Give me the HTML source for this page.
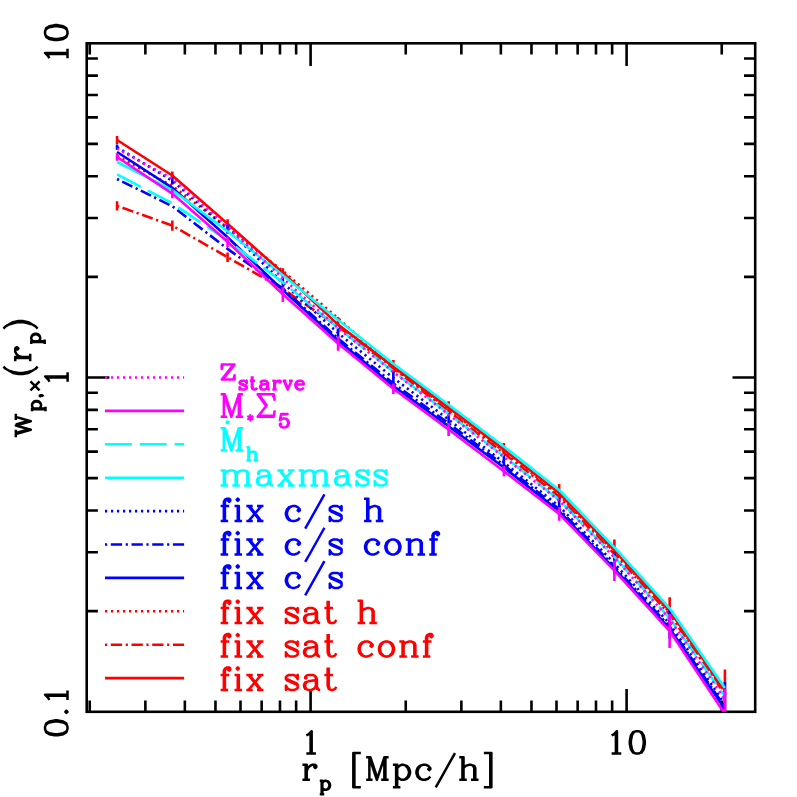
<!DOCTYPE html>
<html><head><meta charset="utf-8"><title>plot</title>
<style>html,body{margin:0;padding:0;background:#fff;font-family:"Liberation Sans",sans-serif}svg{display:block}</style></head><body>
<svg width="797" height="797" viewBox="0 0 797 797">
<rect width="797" height="797" fill="#fff"/>
<defs>
<path id="g0" d="M7 -19L6 -16L5 -11L5 -7L6 -2L7 1M11 -25L9 -23L5 -16L4 -11L4 -7L5 -2L6 0L9 5L11 7"/>
<path id="g1" d="M7 -19L8 -16L9 -11L9 -7L8 -2L7 1M3 -25L5 -23L9 -16L10 -11L10 -7L9 -2L8 0L5 5L3 7"/>
<path id="g2" d="M8 -21L8 -9M3 -18L13 -12M13 -18L3 -12"/>
<path id="g3" d="M5 0L4 -1L5 -2L6 -1L6 1L5 3L4 4"/>
<path id="g4" d="M5 -2L4 -1L5 0L6 -1Z"/>
<path id="g5" d="M20 -25L6 0L2 7"/>
<path id="g6" d="M7 -20L6 -19L5 -17L4 -12L4 -9L5 -4L6 -2L7 -1M13 -20L14 -19L15 -17L16 -12L16 -9L15 -4L14 -2L13 -1M4 -17L3 -12L3 -9L4 -4L6 -1L9 0L11 0L14 -1L16 -4L17 -9L17 -12L16 -17L14 -20L11 -21L9 -21L6 -20Z"/>
<path id="g7" d="M11 0L11 -21L8 -18L6 -17M10 -20L10 0M6 0L15 0"/>
<g id="g8"><path d="M5 -20L10 -20L15 -21L5 -21L3 -11L5 -13M5 -13L8 -14L11 -14L14 -13L16 -11L17 -8L17 -6L16 -3L14 -1L11 0L8 0L5 -1L4 -2L3 -4L3 -5L4 -6L5 -5L4 -4M5 -13L4 -12M13 -13L15 -11L16 -8L16 -6L15 -3L13 -1"/><path d="M5 -13h0" stroke-linecap="round"/></g>
<g id="g9"><path d="M19 -21L12 0L5 -21L5 0M19 -21L19 0M19 -21L23 -21M20 -21L20 0M12 -3L6 -21L2 -21M16 0L23 0M2 0L8 0"/><path d="M19 -21h0" stroke-linecap="round"/></g>
<path id="g10" d="M5 -25L5 7M11 -25L4 -25L4 7L11 7"/>
<path id="g11" d="M9 -25L9 7M3 -25L10 -25L10 7L3 7"/>
<g id="g12"><path d="M14 -12L14 -3M14 -12L15 -10L15 -3L16 -1M14 -12L13 -13L11 -14L7 -14L5 -13L4 -12L4 -11L5 -11L5 -12M14 -3L12 -1L10 0L7 0L4 -1L3 -3L3 -5L4 -7L7 -8L13 -9L14 -10M14 -3L15 -1L17 0L18 0M5 -7L4 -5L4 -3L5 -1"/><path d="M14 -12h0M14 -3h0" stroke-linecap="round"/></g>
<path id="g13" d="M7 -13L5 -11L4 -8L4 -6L5 -3L7 -1M16 -3L14 -1L11 0L9 0L6 -1L4 -3L3 -6L3 -8L4 -11L6 -13L9 -14L12 -14L14 -13L16 -11L16 -10L15 -9L14 -10L15 -11"/>
<g id="g14"><path d="M4 -8L16 -8L16 -10L14 -13L12 -14L9 -14L6 -13L4 -11L3 -8L3 -6L4 -3L6 -1L9 0L11 0L14 -1L16 -3M4 -8L5 -11L7 -13M4 -8L4 -6L5 -3L7 -1M15 -12L15 -8"/><path d="M4 -8h0" stroke-linecap="round"/></g>
<path id="g15" d="M5 0L5 -18L6 -20L8 -21L10 -21L11 -20L11 -19L10 -18L9 -19L10 -20M6 0L6 -18L7 -20M2 -14L10 -14M2 0L9 0"/>
<path id="g16" d="M5 -21L5 0M6 0L6 -21L2 -21M16 0L16 -11L15 -13M17 0L17 -11L16 -13L13 -14L11 -14L8 -13L6 -11M2 0L9 0M13 0L20 0"/>
<path id="g17" d="M5 -14L5 0M6 0L6 -14L2 -14M2 0L9 0M5 -21L4 -20L5 -19L6 -20Z"/>
<g id="g18"><path d="M5 -14L5 0M6 0L6 -14L2 -14M16 0L16 -11L15 -13M17 -11L17 0M17 -11L19 -13L22 -14L24 -14L27 -13L28 -11L28 0M17 -11L16 -13L13 -14L11 -14L8 -13L6 -11M27 0L27 -11L26 -13M2 0L9 0M13 0L20 0M24 0L31 0"/><path d="M17 -11h0" stroke-linecap="round"/></g>
<path id="g19" d="M5 -14L5 0M6 0L6 -14L2 -14M16 0L16 -11L15 -13M17 0L17 -11L16 -13L13 -14L11 -14L8 -13L6 -11M2 0L9 0M13 0L20 0"/>
<path id="g20" d="M7 -13L5 -11L4 -8L4 -6L5 -3L7 -1M13 -13L15 -11L16 -8L16 -6L15 -3L13 -1M9 -14L6 -13L4 -11L3 -8L3 -6L4 -3L6 -1L9 0L11 0L14 -1L16 -3L17 -6L17 -8L16 -11L14 -13L11 -14Z"/>
<path id="g21" d="M5 -14L5 7M6 7L6 -14L2 -14M2 7L9 7M6 -11L8 -13L10 -14L12 -14L15 -13L17 -11L18 -8L18 -6L17 -3L15 -1L12 0L10 0L8 -1L6 -3M14 -13L16 -11L17 -8L17 -6L16 -3L14 -1"/>
<path id="g22" d="M5 -14L5 0M6 0L6 -14L2 -14M2 0L9 0M6 -8L7 -11L9 -13L11 -14L14 -14L15 -13L15 -12L14 -11L13 -12L14 -13"/>
<g id="g23"><path d="M13 -12L14 -14L14 -10ZM13 -12L12 -13L10 -14L6 -14L4 -13L3 -12L3 -10L4 -9L13 -5L14 -4M4 -2L3 -4L3 0ZM4 -2L5 -1L7 0L11 0L13 -1L14 -2L14 -5L13 -6L4 -10L3 -11"/><path d="M13 -12h0M4 -2h0" stroke-linecap="round"/></g>
<path id="g24" d="M5 -21L5 -4L6 -1L8 0L10 0L12 -1L13 -3M6 -21L6 -4L7 -1M2 -14L10 -14"/>
<path id="g25" d="M3 -14L9 0L15 -14M4 -14L9 -2M1 -14L7 -14M11 -14L17 -14"/>
<path id="g26" d="M4 -14L8 0L12 -14L16 0L20 -14M5 -14L8 -3M13 -14L16 -3M1 -14L8 -14M17 -14L23 -14"/>
<path id="g27" d="M16 -14L4 0M4 -14L15 0M5 -14L16 0M2 -14L8 -14M12 -14L18 -14M2 0L8 0M12 0L18 0"/>
<path id="g28" d="M14 -14L3 0L15 0L15 -4L14 0M4 0L15 -14L3 -14L3 -10L4 -14"/>
<path id="g29" d="M18 -15L17 -21L2 -21L10 -10L2 0L17 0L18 -6M3 -21L11 -10M3 -1L16 -1M16 -20L17.5 -18"/>
<path id="g30" d="M1.2 -15.2L15.4 -1M15.4 -15.2L1.2 -1"/>
<path id="g31" d="M8 -20.7L8 -9.3M3.2 -17.8L12.8 -12.2M12.8 -17.8L3.2 -12.2"/>
<clipPath id="cp"><rect x="86.7" y="43.3" width="668.5" height="668.5"/></clipPath>
</defs>
<g fill="none" stroke="#000" stroke-width="2.6">
<rect x="86.7" y="43.3" width="668.5" height="668.5"/>
<path d="M89.73 711.8v-11.2M89.73 43.3v11.2M86.7 611.13h11.2M755.2 611.13h-11.2M145.37 711.8v-11.2M145.37 43.3v11.2M86.7 552.27h11.2M755.2 552.27h-11.2M184.85 711.8v-11.2M184.85 43.3v11.2M86.7 510.51h11.2M755.2 510.51h-11.2M215.47 711.8v-11.2M215.47 43.3v11.2M86.7 478.12h11.2M755.2 478.12h-11.2M240.5 711.8v-11.2M240.5 43.3v11.2M86.7 451.65h11.2M755.2 451.65h-11.2M261.65 711.8v-11.2M261.65 43.3v11.2M86.7 429.28h11.2M755.2 429.28h-11.2M279.98 711.8v-11.2M279.98 43.3v11.2M86.7 409.89h11.2M755.2 409.89h-11.2M296.14 711.8v-11.2M296.14 43.3v11.2M86.7 392.79h11.2M755.2 392.79h-11.2M310.6 711.8v-22.7M310.6 43.3v22.7M86.7 377.5h22.7M755.2 377.5h-22.7M405.73 711.8v-11.2M405.73 43.3v11.2M86.7 276.88h11.2M755.2 276.88h-11.2M461.37 711.8v-11.2M461.37 43.3v11.2M86.7 218.02h11.2M755.2 218.02h-11.2M500.85 711.8v-11.2M500.85 43.3v11.2M86.7 176.26h11.2M755.2 176.26h-11.2M531.47 711.8v-11.2M531.47 43.3v11.2M86.7 143.87h11.2M755.2 143.87h-11.2M556.5 711.8v-11.2M556.5 43.3v11.2M86.7 117.4h11.2M755.2 117.4h-11.2M577.65 711.8v-11.2M577.65 43.3v11.2M86.7 95.03h11.2M755.2 95.03h-11.2M595.98 711.8v-11.2M595.98 43.3v11.2M86.7 75.64h11.2M755.2 75.64h-11.2M612.14 711.8v-11.2M612.14 43.3v11.2M86.7 58.54h11.2M755.2 58.54h-11.2M626.6 711.8v-22.7M626.6 43.3v22.7M721.73 711.8v-11.2M721.73 43.3v11.2"/>
</g>
<g fill="none" stroke-width="2.6" stroke-linejoin="round" clip-path="url(#cp)">
<polyline points="117.05,140 172.31,175.5 227.57,223.8 282.83,272.8 338.09,324.6 393.35,366.6 448.61,407.6 503.87,449.6 559.13,493 614.39,550.3 669.65,610.8 724.91,690.5" stroke="#ff0000"/>
<path d="M117.05 136V144M172.31 171.5V179.5M227.57 219.3V228.3M282.83 268.3V277.3M338.09 317V332.2M393.35 360V373.2M448.61 401.3V413.9M503.87 443V456.2M559.13 484V502M614.39 539.5V561.1M669.65 597.3V624.3M724.91 669.6V711.4" stroke="#ff0000"/>
<polyline points="117.05,205.9 172.31,225.6 227.57,257.2 282.83,289 338.09,326.5 393.35,368.6 448.61,411.3 503.87,453.3 559.13,496.7 614.39,554 669.65,614.5 724.91,694.2" stroke="#ff0000" stroke-dasharray="2.2 3.6 11.3 3.6"/>
<path d="M117.05 201.25V210.55M172.31 220.4V230.8M227.57 252.5V261.9M282.83 286V292M338.09 324.5V328.5M393.35 366.6V370.6M448.61 409.3V413.3M503.87 451.3V455.3M559.13 494.7V498.7M614.39 552V556M669.65 612.5V616.5M724.91 692.2V696.2" stroke="#ff0000"/>
<polyline points="117.05,156 172.31,186 227.57,227.6 282.83,271 338.09,318.3 393.35,367.6 448.61,409.4 503.87,451.4 559.13,494.8 614.39,552.1 669.65,612.6 724.91,692.3" stroke="#ff0000" stroke-dasharray="2.2 3.8"/>
<polyline points="117.05,152 172.31,187.8 227.57,237.2 282.83,290.1 338.09,340.5 393.35,386 448.61,426.2 503.87,467.5 559.13,511.1 614.39,568.7 669.65,628.6 724.91,709" stroke="#0000ff"/>
<polyline points="117.05,179 172.31,206.2 227.57,248.9 282.83,288.5 338.09,338.5 393.35,383.4 448.61,423.3 503.87,465.1 559.13,509.1 614.39,566.6 669.65,626.6 724.91,707" stroke="#0000ff" stroke-dasharray="2.2 3.6 11.3 3.6"/>
<polyline points="117.05,147.2 172.31,180.8 227.57,229 282.83,282.8 338.09,333.1 393.35,377.9 448.61,419.6 503.87,462.5 559.13,506.1 614.39,563.4 669.65,623.8 724.91,704.1" stroke="#0000ff" stroke-dasharray="2.2 3.8"/>
<path d="M117.05 144.45V149.95M172.31 177V184.6M227.57 224.25V233.75M282.83 277.9V287.7M338.09 326.8V339.4M393.35 370.9V384.9M448.61 412.6V426.6M503.87 455V470M559.13 497.6V514.6M614.39 552.4V574.4M669.65 608.8V638.8M724.91 682.1V726.1" stroke="#0000ff"/>
<polyline points="117.05,162 172.31,190.1 227.57,231.3 282.83,275.3 338.09,320.1 393.35,363.8 448.61,404.8 503.87,446.5 559.13,490 614.39,547.3 669.65,608.3 724.91,688.1" stroke="#00ffff"/>
<polyline points="117.05,174.4 172.31,203.3 227.57,240.5 282.83,282.4 338.09,327.9 393.35,371.4 448.61,413.7 503.87,456.3 559.13,499.8 614.39,556.8 669.65,618.2 724.91,696.6" stroke="#00ffff" stroke-dasharray="26.8 8"/>
<polyline points="117.05,157 172.31,193.6 227.57,241.8 282.83,294.3 338.09,343.5 393.35,388.7 448.61,429.5 503.87,471.2 559.13,513.9 614.39,570.7 669.65,631 724.91,714" stroke="#ff00ff"/>
<path d="M117.05 153.3V160.7M172.31 189V198.2M227.57 236.6V247M282.83 286.7V301.9M338.09 336.3V350.7M393.35 383.4V394M448.61 423V436M503.87 466.1V476.3M559.13 507V520.8M614.39 560.4V581M669.65 614V648M724.91 688.6V739.4" stroke="#ff00ff"/>
<polyline points="117.05,148.6 172.31,178.8 227.57,226.8 282.83,278.3 338.09,328.1 393.35,372.1 448.61,414.5 503.87,457.1 559.13,500.6 614.39,557.6 669.65,619 724.91,699.4" stroke="#ff00ff" stroke-dasharray="2.2 3.8"/>
</g>
<g fill="none" stroke-width="2.6">
<path d="M105 377.5H184.1" stroke="#ff00ff" stroke-dasharray="2.2 3.8"/>
<path d="M105 410.9H184.1" stroke="#ff00ff"/>
<path d="M105 444.3H184.1" stroke="#00ffff" stroke-dasharray="26.8 8"/>
<path d="M105 477.7H184.1" stroke="#00ffff"/>
<path d="M105 511.1H184.1" stroke="#0000ff" stroke-dasharray="2.2 3.8"/>
<path d="M105 544.5H184.1" stroke="#0000ff" stroke-dasharray="2.2 3.6 11.3 3.6"/>
<path d="M105 577.9H184.1" stroke="#0000ff"/>
<path d="M105 611.3H184.1" stroke="#ff0000" stroke-dasharray="2.2 3.8"/>
<path d="M105 644.7H184.1" stroke="#ff0000" stroke-dasharray="2.2 3.6 11.3 3.6"/>
<path d="M105 678.1H184.1" stroke="#ff0000"/>
</g>
<g transform="translate(218.5 379.6)" fill="none" stroke="#ff00ff" stroke-linecap="butt" stroke-linejoin="round"><use href="#g28" transform="translate(0 0) scale(1.07)" stroke-width="2.34"/><use href="#g23" transform="translate(19.26 10) scale(0.64)" stroke-width="3.91"/><use href="#g24" transform="translate(30.14 10) scale(0.64)" stroke-width="3.91"/><use href="#g12" transform="translate(39.74 10) scale(0.64)" stroke-width="3.91"/><use href="#g22" transform="translate(52.54 10) scale(0.64)" stroke-width="3.91"/><use href="#g25" transform="translate(63.42 10) scale(0.64)" stroke-width="3.91"/><use href="#g14" transform="translate(74.94 10) scale(0.64)" stroke-width="3.91"/></g>
<g transform="translate(218.5 416.8)" fill="none" stroke="#ff00ff" stroke-linecap="butt" stroke-linejoin="round"><use href="#g9" transform="translate(0 0) scale(1.07)" stroke-width="2.34"/><use href="#g31" transform="translate(26.75 10.6) scale(0.64)" stroke-width="3.44"/><use href="#g29" transform="translate(36.99 0) scale(1.07)" stroke-width="2.34"/><use href="#g8" transform="translate(59.46 10.6) scale(0.64)" stroke-width="3.91"/></g>
<g transform="translate(218.5 450.6)" fill="none" stroke="#00ffff" stroke-linecap="butt" stroke-linejoin="round"><use href="#g9" transform="translate(0 0) scale(1.07)" stroke-width="2.34"/><use href="#g16" transform="translate(26.75 10) scale(0.64)" stroke-width="3.91"/></g>
<circle cx="227.55" cy="422.4" r="2.1" fill="#00ffff"/>
<g transform="translate(218.5 485.4)" fill="none" stroke="#00ffff" stroke-linecap="butt" stroke-linejoin="round"><use href="#g18" transform="translate(0 0) scale(1.07)" stroke-width="2.34"/><use href="#g12" transform="translate(35.31 0) scale(1.07)" stroke-width="2.34"/><use href="#g27" transform="translate(56.71 0) scale(1.07)" stroke-width="2.34"/><use href="#g18" transform="translate(78.11 0) scale(1.07)" stroke-width="2.34"/><use href="#g12" transform="translate(113.42 0) scale(1.07)" stroke-width="2.34"/><use href="#g23" transform="translate(134.82 0) scale(1.07)" stroke-width="2.34"/><use href="#g23" transform="translate(153.01 0) scale(1.07)" stroke-width="2.34"/></g>
<g transform="translate(218.5 521.1)" fill="none" stroke="#0000ff" stroke-linecap="butt" stroke-linejoin="round"><use href="#g15" transform="translate(0 0) scale(1.07)" stroke-width="2.34"/><use href="#g17" transform="translate(13.91 0) scale(1.07)" stroke-width="2.34"/><use href="#g27" transform="translate(25.68 0) scale(1.07)" stroke-width="2.34"/><use href="#g13" transform="translate(64.2 0) scale(1.07)" stroke-width="2.34"/><use href="#g5" transform="translate(84.53 0) scale(1.07)" stroke-width="2.34"/><use href="#g23" transform="translate(108.07 0) scale(1.07)" stroke-width="2.34"/><use href="#g16" transform="translate(143.38 0) scale(1.07)" stroke-width="2.34"/></g>
<g transform="translate(218.5 554.5)" fill="none" stroke="#0000ff" stroke-linecap="butt" stroke-linejoin="round"><use href="#g15" transform="translate(0 0) scale(1.07)" stroke-width="2.34"/><use href="#g17" transform="translate(13.91 0) scale(1.07)" stroke-width="2.34"/><use href="#g27" transform="translate(25.68 0) scale(1.07)" stroke-width="2.34"/><use href="#g13" transform="translate(64.2 0) scale(1.07)" stroke-width="2.34"/><use href="#g5" transform="translate(84.53 0) scale(1.07)" stroke-width="2.34"/><use href="#g23" transform="translate(108.07 0) scale(1.07)" stroke-width="2.34"/><use href="#g13" transform="translate(143.38 0) scale(1.07)" stroke-width="2.34"/><use href="#g20" transform="translate(163.71 0) scale(1.07)" stroke-width="2.34"/><use href="#g19" transform="translate(185.11 0) scale(1.07)" stroke-width="2.34"/><use href="#g15" transform="translate(208.65 0) scale(1.07)" stroke-width="2.34"/></g>
<g transform="translate(218.5 587.9)" fill="none" stroke="#0000ff" stroke-linecap="butt" stroke-linejoin="round"><use href="#g15" transform="translate(0 0) scale(1.07)" stroke-width="2.34"/><use href="#g17" transform="translate(13.91 0) scale(1.07)" stroke-width="2.34"/><use href="#g27" transform="translate(25.68 0) scale(1.07)" stroke-width="2.34"/><use href="#g13" transform="translate(64.2 0) scale(1.07)" stroke-width="2.34"/><use href="#g5" transform="translate(84.53 0) scale(1.07)" stroke-width="2.34"/><use href="#g23" transform="translate(108.07 0) scale(1.07)" stroke-width="2.34"/></g>
<g transform="translate(218.5 623.1)" fill="none" stroke="#ff0000" stroke-linecap="butt" stroke-linejoin="round"><use href="#g15" transform="translate(0 0) scale(1.07)" stroke-width="2.34"/><use href="#g17" transform="translate(13.91 0) scale(1.07)" stroke-width="2.34"/><use href="#g27" transform="translate(25.68 0) scale(1.07)" stroke-width="2.34"/><use href="#g23" transform="translate(64.2 0) scale(1.07)" stroke-width="2.34"/><use href="#g12" transform="translate(82.39 0) scale(1.07)" stroke-width="2.34"/><use href="#g24" transform="translate(103.79 0) scale(1.07)" stroke-width="2.34"/><use href="#g16" transform="translate(136.96 0) scale(1.07)" stroke-width="2.34"/></g>
<g transform="translate(218.5 656.5)" fill="none" stroke="#ff0000" stroke-linecap="butt" stroke-linejoin="round"><use href="#g15" transform="translate(0 0) scale(1.07)" stroke-width="2.34"/><use href="#g17" transform="translate(13.91 0) scale(1.07)" stroke-width="2.34"/><use href="#g27" transform="translate(25.68 0) scale(1.07)" stroke-width="2.34"/><use href="#g23" transform="translate(64.2 0) scale(1.07)" stroke-width="2.34"/><use href="#g12" transform="translate(82.39 0) scale(1.07)" stroke-width="2.34"/><use href="#g24" transform="translate(103.79 0) scale(1.07)" stroke-width="2.34"/><use href="#g13" transform="translate(136.96 0) scale(1.07)" stroke-width="2.34"/><use href="#g20" transform="translate(157.29 0) scale(1.07)" stroke-width="2.34"/><use href="#g19" transform="translate(178.69 0) scale(1.07)" stroke-width="2.34"/><use href="#g15" transform="translate(202.23 0) scale(1.07)" stroke-width="2.34"/></g>
<g transform="translate(218.5 689.9)" fill="none" stroke="#ff0000" stroke-linecap="butt" stroke-linejoin="round"><use href="#g15" transform="translate(0 0) scale(1.07)" stroke-width="2.34"/><use href="#g17" transform="translate(13.91 0) scale(1.07)" stroke-width="2.34"/><use href="#g27" transform="translate(25.68 0) scale(1.07)" stroke-width="2.34"/><use href="#g23" transform="translate(64.2 0) scale(1.07)" stroke-width="2.34"/><use href="#g12" transform="translate(82.39 0) scale(1.07)" stroke-width="2.34"/><use href="#g24" transform="translate(103.79 0) scale(1.07)" stroke-width="2.34"/></g>
<g transform="translate(299.9 753.6)" fill="none" stroke="#000" stroke-linecap="butt" stroke-linejoin="round"><use href="#g7" transform="translate(0 0) scale(1.07)" stroke-width="2.34"/></g>
<g transform="translate(605.2 753.6)" fill="none" stroke="#000" stroke-linecap="butt" stroke-linejoin="round"><use href="#g7" transform="translate(0 0) scale(1.07)" stroke-width="2.34"/><use href="#g6" transform="translate(21.4 0) scale(1.07)" stroke-width="2.34"/></g>
<g transform="translate(67.5 64.7) rotate(-90)" fill="none" stroke="#000" stroke-linecap="butt" stroke-linejoin="round"><use href="#g7" transform="translate(0 0) scale(1.07)" stroke-width="2.34"/><use href="#g6" transform="translate(21.4 0) scale(1.07)" stroke-width="2.34"/></g>
<g transform="translate(67.6 388.2) rotate(-90)" fill="none" stroke="#000" stroke-linecap="butt" stroke-linejoin="round"><use href="#g7" transform="translate(0 0) scale(1.07)" stroke-width="2.34"/></g>
<g transform="translate(67.5 738.55) rotate(-90)" fill="none" stroke="#000" stroke-linecap="butt" stroke-linejoin="round"><use href="#g6" transform="translate(0 0) scale(1.07)" stroke-width="2.34"/><use href="#g4" transform="translate(21.4 0) scale(1.07)" stroke-width="2.34"/><use href="#g7" transform="translate(32.1 0) scale(1.07)" stroke-width="2.34"/></g>
<g transform="translate(300.3 779.8)" fill="none" stroke="#000" stroke-linecap="butt" stroke-linejoin="round"><use href="#g22" transform="translate(0 0) scale(1.07)" stroke-width="2.34"/><use href="#g21" transform="translate(18.19 10) scale(0.64)" stroke-width="3.91"/><use href="#g10" transform="translate(48.75 0) scale(1.07)" stroke-width="2.34"/><use href="#g9" transform="translate(63.73 0) scale(1.07)" stroke-width="2.34"/><use href="#g21" transform="translate(90.48 0) scale(1.07)" stroke-width="2.34"/><use href="#g13" transform="translate(112.95 0) scale(1.07)" stroke-width="2.34"/><use href="#g5" transform="translate(133.28 0) scale(1.07)" stroke-width="2.34"/><use href="#g16" transform="translate(156.82 0) scale(1.07)" stroke-width="2.34"/><use href="#g11" transform="translate(180.36 0) scale(1.07)" stroke-width="2.34"/></g>
<g transform="translate(30.2 438.3) rotate(-90)" fill="none" stroke="#000" stroke-linecap="butt" stroke-linejoin="round"><use href="#g26" transform="translate(0 0.6) scale(1.07)" stroke-width="2.34"/><use href="#g21" transform="translate(25.88 10.8) scale(0.64)" stroke-width="3.91"/><use href="#g3" transform="translate(39.32 10.8) scale(0.64)" stroke-width="3.91"/><use href="#g30" transform="translate(47.12 10) scale(0.64)" stroke-width="3.91"/><use href="#g0" transform="translate(59.92 0) scale(1.07)" stroke-width="2.34"/><use href="#g22" transform="translate(74.9 0) scale(1.07)" stroke-width="2.34"/><use href="#g21" transform="translate(93.09 10) scale(0.64)" stroke-width="3.91"/><use href="#g1" transform="translate(106.53 0) scale(1.07)" stroke-width="2.34"/></g>
</svg></body></html>
